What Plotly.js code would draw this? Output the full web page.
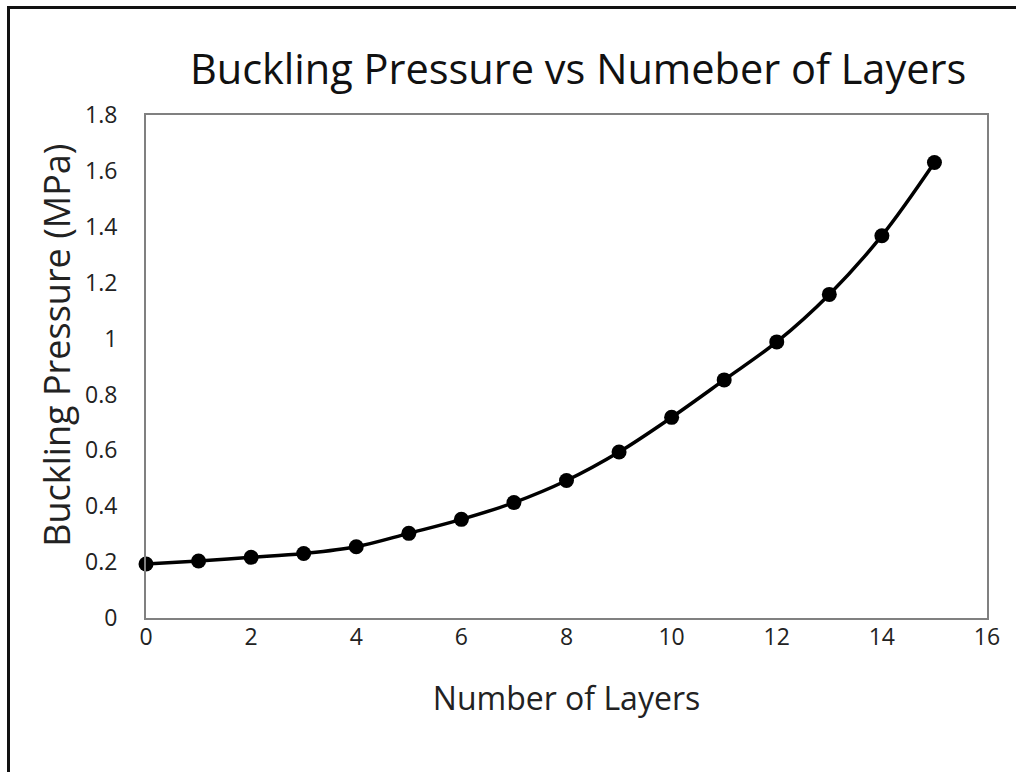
<!DOCTYPE html>
<html>
<head>
<meta charset="utf-8">
<script src="https://cdn.plot.ly/plotly-3.0.1.min.js"></script>
<style>
  html, body { margin: 0; padding: 0; background: #fff; overflow: hidden; }
  #wrap { position: relative; width: 1016px; height: 772px; }
  #chart { position: absolute; left: 0; top: 0; width: 1016px; height: 772px; }
  #frame { position: absolute; left: 7px; top: 6px; width: 1100px; height: 900px;
           border-left: 3px solid #111; border-top: 3px solid #111; pointer-events: none; }
</style>
</head>
<body>
<div id="wrap">
  <div id="chart"></div>
  <div id="frame"></div>
</div>
<script>
const layers = [0, 1, 2, 3, 4, 5, 6, 7, 8, 9, 10, 11, 12, 13, 14, 15];
const bucklingPressure = [0.193, 0.204, 0.217, 0.231, 0.255, 0.303, 0.353, 0.413, 0.492, 0.594, 0.718, 0.852, 0.988, 1.158, 1.368, 1.630];
const xTicks = [0, 2, 4, 6, 8, 10, 12, 14, 16];
const yTicks = [0, 0.2, 0.4, 0.6, 0.8, 1, 1.2, 1.4, 1.6, 1.8];
const chartTitle = 'Buckling Pressure vs Numeber of Layers';
const xTitle = 'Number of Layers';
const yTitle = 'Buckling Pressure (MPa)';

const FONT = '"Open Sans", sans-serif';

const trace = {
  x: layers,
  y: bucklingPressure,
  type: 'scatter',
  mode: 'lines+markers',
  line: { color: '#000', width: 3.5, shape: 'spline', smoothing: 1 },
  marker: { color: '#000', size: 15 },
  cliponaxis: false,
  hoverinfo: 'x+y'
};

const layout = {
  width: 1016,
  height: 772,
  paper_bgcolor: '#fff',
  plot_bgcolor: '#fff',
  showlegend: false,
  margin: { l: 146, r: 29, t: 115, b: 154, autoexpand: false },
  font: { family: FONT, color: '#222' },
  title: {
    text: chartTitle,
    font: { family: FONT, size: 41.5, color: '#111' },
    xref: 'container', yref: 'container',
    x: 0.569, xanchor: 'center',
    y: 0.91, yanchor: 'middle'
  },
  xaxis: {
    range: [0, 16],
    tickvals: xTicks,
    ticktext: xTicks.map(String),
    ticks: '',
    showgrid: false,
    zeroline: false,
    showline: true, mirror: true, linecolor: '#808080', linewidth: 2,
    tickfont: { family: FONT, size: 23, color: '#222' },
    ticklabelstandoff: -3,
    title: { text: xTitle, font: { family: FONT, size: 32, color: '#222' }, standoff: 37 },
    fixedrange: true
  },
  yaxis: {
    range: [0, 1.8],
    tickvals: yTicks,
    ticktext: yTicks.map(v => String(v)),
    ticks: '',
    showgrid: false,
    zeroline: false,
    showline: true, mirror: true, linecolor: '#808080', linewidth: 2,
    tickfont: { family: FONT, size: 23, color: '#222' },
    ticklabelstandoff: 22,
    title: { text: '' },
    fixedrange: true
  },
  annotations: [{
    text: yTitle,
    xref: 'paper', yref: 'paper',
    x: -0.106, y: 0.543,
    xanchor: 'center', yanchor: 'middle',
    textangle: -90,
    showarrow: false,
    font: { family: FONT, size: 36, color: '#222' }
  }]
};

Plotly.newPlot('chart', [trace], layout, { displayModeBar: false });
</script>
</body>
</html>
